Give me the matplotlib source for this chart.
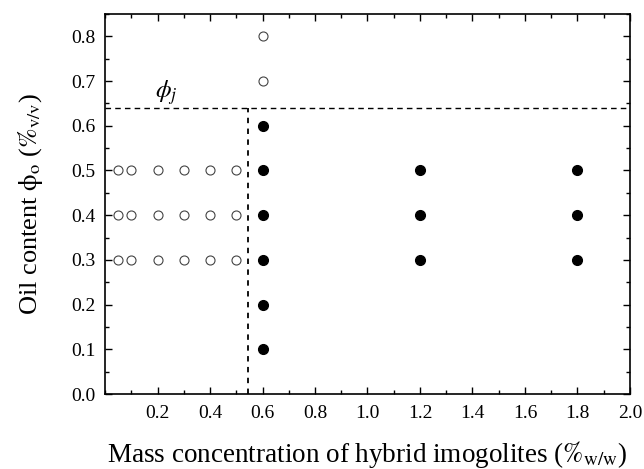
import numpy as np
import matplotlib
matplotlib.use('Agg')
import matplotlib.pyplot as plt
from matplotlib.ticker import MultipleLocator

plt.rcParams['font.family'] = ['Liberation Serif', 'DejaVu Serif']
plt.rcParams['mathtext.fontset'] = 'stix'

# open symbols (unstable emulsions)
open_x = [0.05, 0.1, 0.2, 0.3, 0.4, 0.5] * 3 + [0.6, 0.6]
open_y = [0.3] * 6 + [0.4] * 6 + [0.5] * 6 + [0.7, 0.8]

# filled symbols (stable emulsions)
fill_x = [0.6] * 6 + [1.2] * 3 + [1.8] * 3
fill_y = [0.1, 0.2, 0.3, 0.4, 0.5, 0.6] + [0.3, 0.4, 0.5] * 2

phi_j = 0.64
c_min = 0.545

fig = plt.figure(figsize=(6.44, 4.69), dpi=100)
ax = fig.add_axes([105 / 644, 75 / 469, 525 / 644, 380 / 469])

ax.plot(open_x, open_y, 'o', ms=6.5, mfc='white', mec='#444444', mew=0.8, ls='none')
ax.plot(fill_x, fill_y, 'o', ms=7, mfc='black', mec='black', ls='none')

ax.axhline(phi_j, color='black', ls='--', lw=1, dashes=(4, 3))
ax.plot([c_min, c_min], [0, phi_j], color='black', ls='--', lw=1.3, dashes=(3, 3))
ax.text(0.235, 0.642, r'$\phi_j$', fontsize=18, ha='center', va='bottom')

ax.set_xlim(0, 2.0)
ax.set_ylim(0, 0.85)
ax.xaxis.set_major_locator(MultipleLocator(0.2))
ax.xaxis.set_minor_locator(MultipleLocator(0.1))
ax.yaxis.set_major_locator(MultipleLocator(0.1))
ax.yaxis.set_minor_locator(MultipleLocator(0.05))
ax.set_xticks(np.arange(0.2, 2.01, 0.2))
ax.set_xticklabels(['%.1f' % v for v in np.arange(0.2, 2.01, 0.2)])
ax.tick_params(which='both', direction='in', top=True, right=True, labelsize=14)
ax.tick_params(axis='x', which='major', pad=8)
ax.tick_params(axis='y', which='major', pad=7)
ax.tick_params(which='major', length=5, width=1)
ax.tick_params(which='minor', length=3, width=1)
for s in ax.spines.values():
    s.set_linewidth(1.2)

ax.set_xlabel(r'Mass concentration of hybrid imogolites ($\%_{\mathrm{w/w}}$)', fontsize=19.5, labelpad=12)
ax.set_ylabel(r'Oil content $\mathrm{\phi_o}$ ($\%_{\mathrm{v/v}}$)', fontsize=19, labelpad=19)

fig.savefig('out.png', dpi=100)
